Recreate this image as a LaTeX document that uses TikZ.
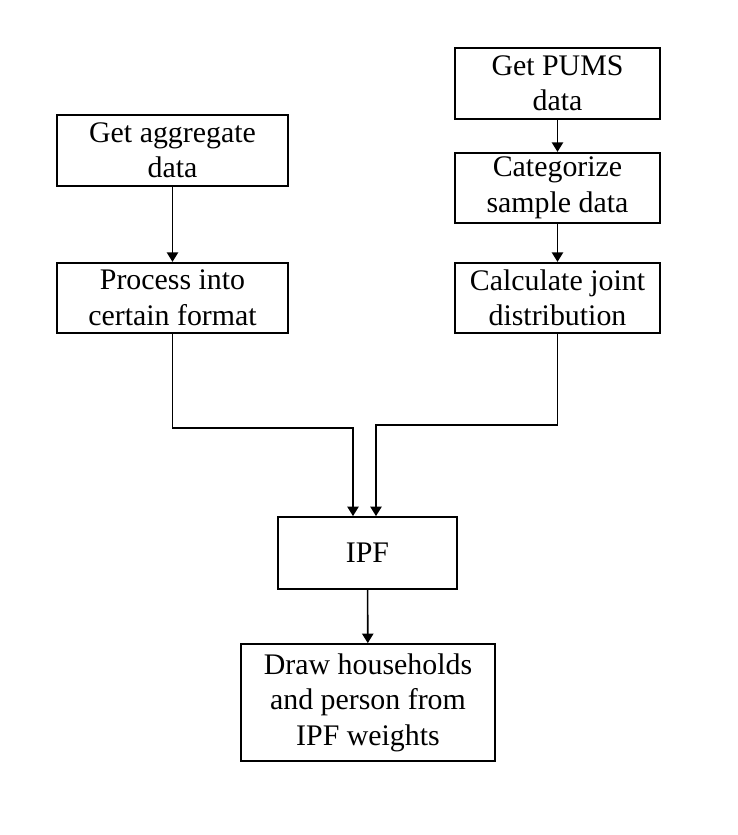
\documentclass[tikz,border=0pt]{standalone}
\usepackage{fontspec}
\setmainfont{Liberation Serif}
\usepackage{tikz}
\usetikzlibrary{arrows.meta}
\usetikzlibrary{calc}

\begin{document}
\begin{tikzpicture}[
	box/.style={draw=black, line width=1pt, align=center, inner sep=0pt,
		font=\fontsize{17}{20.2}\selectfont},
	arr/.style={line width=0.9pt, -{Triangle[length=5.4pt,width=6.4pt]}}]
	\useasboundingbox (0,0) rectangle (14.76,16.7);
	\pgfmathsetmacro{\boxh}{1.41}
	\node[box, minimum width=4.62cm, minimum height=\boxh cm] (agg) at (3.45,13.69) {Get aggregate\\data};
	\node[box, minimum width=4.62cm, minimum height=\boxh cm] (proc) at (3.45,10.74) {Process into\\certain format};
	\node[box, minimum width=4.1cm, minimum height=\boxh cm] (pums) at (11.15,15.03) {Get PUMS\\data};
	\node[box, minimum width=4.1cm, minimum height=\boxh cm] (categ) at (11.15,12.94) {Categorize\\sample data};
	\node[box, minimum width=4.1cm, minimum height=\boxh cm] (joint) at (11.15,10.74) {Calculate joint\\distribution};
	\node[box, minimum width=3.58cm, minimum height=1.44cm] (ipf) at (7.35,5.64) {IPF};
	\node[box, minimum width=5.08cm, minimum height=2.34cm] (draw) at (7.36,2.65) {Draw households\\and person from\\IPF weights};
	\draw[arr] (agg) -- (proc);
	\draw[arr] (pums) -- (categ);
	\draw[arr] (categ) -- (joint);
	\draw[arr] (proc.south) -- ++(0,-1.88) -| ([xshift=-0.29cm]ipf.north);
	\draw[arr] (joint.south) -- ++(0,-1.82) -| ([xshift=0.17cm]ipf.north);
	\draw[arr] (ipf) -- (draw);
\end{tikzpicture}
\end{document}
